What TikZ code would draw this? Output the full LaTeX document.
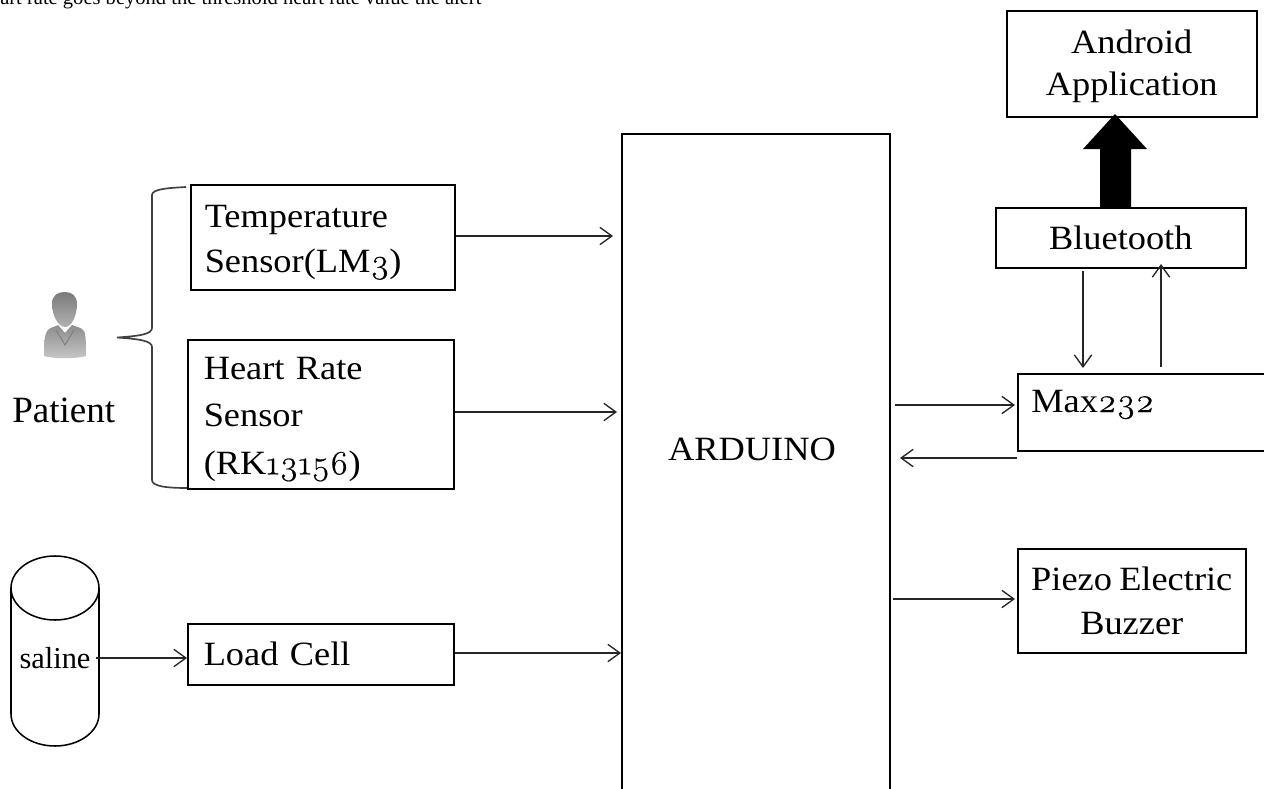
\documentclass[tikz,border=0pt]{standalone}
\usepackage{fontspec}
\setmainfont{Liberation Serif}
\newfontfamily\camb[FakeStretch=1.07,WordSpace=0.8]{Liberation Serif}
\newfontfamily\onum[Numbers=OldStyle,FakeBold=0.4,FakeStretch=1.05]{Latin Modern Roman}
\newcommand{\os}[1]{{\onum #1}}
\newcommand{\topgap}[1]{\rule{0pt}{#1}}
\usetikzlibrary{arrows.meta}
\tikzset{
  conn/.style={draw=black!85,line width=1pt,-{Straight Barb[length=9pt,width=13pt,line width=1pt]}},
  stroke/.style={draw=black,line width=1.15pt},
  boxnode/.style={stroke,rectangle,inner ysep=0pt,font=\camb\fontsize{25.5}{33}\selectfont,align=left},
  lbl/.style={inner sep=0pt,font=\camb\fontsize{25.5}{33}\selectfont},
}
\begin{document}
\begin{tikzpicture}[x=0.75pt,y=-0.75pt]
\useasboundingbox (0,0) rectangle (1264,789);
\clip (0,0) rectangle (1264,789);
\fill[white] (0,0) rectangle (1264,789);
% clipped line of running text above the diagram
\node[anchor=base west,inner sep=0pt,font=\fontsize{15.4}{17}\selectfont] (runon) at (0,4.5) {art rate goes beyond the threshold heart rate value the alert};
% boxes
\node[boxnode,anchor=north west,text width=177pt,inner xsep=10.5pt,minimum height=78.75pt,font=\camb\fontsize{25.5}{34}\selectfont] (temp) at (190,184) {\topgap{24.5pt}Temperature\\Sensor(LM\os{3})};
\node[boxnode,anchor=north west,text width=175.5pt,inner xsep=12pt,minimum height=111.75pt,font=\camb\fontsize{25.5}{35.5}\selectfont] (heart) at (187,339) {\topgap{24.5pt}Heart Rate\\Sensor\\(RK\os{13156})};
\node[boxnode,anchor=north west,text width=175.5pt,inner xsep=12pt,minimum height=45.75pt] (load) at (187,623) {Load Cell};
\node[boxnode,anchor=north west,minimum width=201pt,minimum height=510pt,inner xsep=0pt] (ard) at (621,133) {};
\node[lbl] (ardl) at (752,449) {ARDUINO};
\node[boxnode,anchor=north west,minimum width=187.5pt,minimum height=79.5pt,inner xsep=0pt,align=center,font=\camb\fontsize{25.5}{31.5}\selectfont] (android) at (1006,10) {\topgap{22pt}Android\\Application};
\node[boxnode,anchor=north west,minimum width=187.5pt,minimum height=45pt,inner xsep=0pt,align=center] (bt) at (995,207) {Bluetooth};
\node[boxnode,anchor=north west,minimum width=200pt,minimum height=57.75pt,inner xsep=0pt] (max) at (1017,373) {};
\node[lbl,anchor=base west] (maxl) at (1031,412) {Max\os{232}};
\node[boxnode,anchor=north west,minimum width=171pt,minimum height=78pt,inner xsep=0pt,align=center,font=\camb\fontsize{25.5}{33}\selectfont] (piezo) at (1017,548) {Piezo Electric\\Buzzer};
% saline cylinder
\draw[stroke] (11,588) -- (11,714) arc[start angle=180,end angle=0,x radius=44,y radius=32] -- (99,588);
\draw[stroke] (55,588) ellipse[x radius=44,y radius=32];
\node[inner sep=0pt,font=\fontsize{22.8}{26}\selectfont] (saline) at (55,658) {saline};
% free ends of the connectors
\coordinate (a1) at (613,236);
\coordinate (a2) at (617,412);
\coordinate (a3) at (621,653);
\coordinate (s1) at (96,658);
\coordinate (m1) at (895,405);
\coordinate (m2) at (1015,405);
\coordinate (m3) at (1017,458);
\coordinate (m4) at (900,458);
\coordinate (p1) at (893,599);
\coordinate (p2) at (1015,599);
\coordinate (b1) at (1083,271);
\coordinate (b2) at (1083,368);
\coordinate (b3) at (1161,367);
\coordinate (b4) at (1161,264);
\draw[conn] (temp.east |- a1) -- (a1);
\draw[conn] (heart.east |- a2) -- (a2);
\draw[conn] (load.east |- a3) -- (a3);
\draw[conn] (s1) -- (load.west |- s1);
\draw[conn] (m1) -- (m2);
\draw[conn] (m3) -- (m4);
\draw[conn] (p1) -- (p2);
\draw[conn] (b1) -- (b2);
\draw[conn] (b3) -- (b4);
% thick arrow
\fill[black] (1100,207) -- (1100,149) -- (1083,149) -- (1115,114) -- (1147,149) -- (1131,149) -- (1131,207) -- cycle;
% brace
\draw[draw=black!75,line width=1.25pt] (186,187) .. controls (168,188) and (152,189) .. (152,195) -- (152,328) .. controls (152,334) and (140,336) .. (117,337.5) .. controls (140,339) and (152,341) .. (152,347) -- (152,480) .. controls (152,486) and (165,488) .. (187,488);
% patient icon
\shade[top color=black!45,bottom color=black!22] (44,356) .. controls (44.5,344) and (44,334) .. (48,330) .. controls (51,327) and (55,327) .. (58,325) -- (65,333) -- (72,325) .. controls (76,327) and (81,327) .. (84,331) .. controls (86,335) and (86,345) .. (86,356) .. controls (76,359) and (54,359) .. (44,356) -- cycle;
\shade[top color=black!52,bottom color=black!30] (52,304) .. controls (52,295) and (58,292) .. (65,292) .. controls (72,292) and (77,296) .. (77,304) .. controls (77,315) and (72,327) .. (65,327) .. controls (58,327) and (52,315) .. (52,304) -- cycle;
\draw[black!50,line width=0.8pt] (56,330) -- (65,345) -- (74,330);
\node[inner sep=0pt,anchor=base west,font=\fontsize{27.8}{30}\selectfont] (patient) at (12,422) {Patient};
\end{tikzpicture}
\end{document}
